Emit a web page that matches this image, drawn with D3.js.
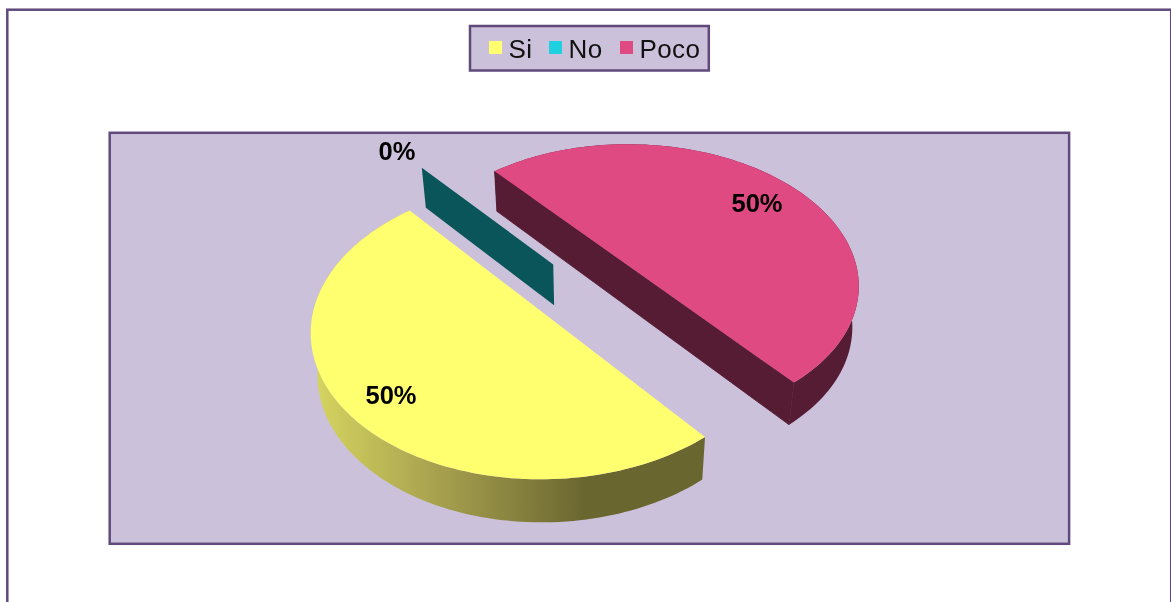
<!DOCTYPE html>
<html><head><meta charset="utf-8">
<script src="https://cdn.jsdelivr.net/npm/d3@7/dist/d3.min.js"></script>
<style>html,body{margin:0;padding:0;background:#fff;overflow:hidden}svg{display:block;filter:blur(0.35px)}</style>
</head><body><svg id="c" width="1171" height="602"></svg>
<script>
const categories = ["Si", "No", "Poco"];
const values = [50, 0, 50];
const labels = ["50%", "0%", "50%"];
const topColors = ["#ffff70", "#1fd0e0", "#e04a82"];
const sideColors = ["url(#rim)", "#0a5559", "#561c33"];

const W = 1171, H = 602;
const svg = d3.select("#c");
const frameColor = "#604a7b", plotFill = "#ccc1da";

// frame + plot area
svg.append("rect").attr("x",7.3).attr("y",9.7).attr("width",W-7.3+0.2).attr("height",H+20)
  .attr("fill","#fff").attr("stroke",frameColor).attr("stroke-width",2.5);
svg.append("rect").attr("x",109.7).attr("y",132.8).attr("width",959.4).attr("height",411)
  .attr("fill",plotFill).attr("stroke",frameColor).attr("stroke-width",2.5);

// rim gradient
const g = svg.append("defs").append("linearGradient").attr("id","rim")
  .attr("gradientUnits","userSpaceOnUse").attr("x1",312).attr("x2",585).attr("y1",0).attr("y2",0);
[[0,"#d6d660"],[0.45,"#a8a24f"],[1,"#6a6630"]].forEach(s=>g.append("stop").attr("offset",s[0]).attr("stop-color",s[1]));

// 3-D camera projection of the pie plane
const k=0.1093, sx=233.6, sy=148.2, ox=543.5, oy=313.6, cX=0.2, cY=-0.155;
const ux=0.637, uy=0.77, along=0.985, across=1.004;
const project=(X,Y)=>{
  const a=(X*ux+Y*uy), b=(-X*uy+Y*ux);
  const Xs=along*a*ux-across*b*uy, Ys=along*a*uy+across*b*ux;
  const x0=Xs+cX,y0=Ys+cY,w=1-k*y0;
  return [ox+sx*x0/w, oy+sy*y0/w];
};
const lower=p=>[590+(p[0]-590)*0.976, p[1]+40+(p[1]-170)*0.01];
const explode=0.25;

const rot=140.4*Math.PI/180;
const arcs=d3.pie().sort(null).value(d=>d).startAngle(rot).endAngle(rot+2*Math.PI)(values);
const line=d3.line();

function slicePoints(a){
  const mid=(a.startAngle+a.endAngle)/2;
  const dx=explode*Math.sin(mid), dy=-explode*Math.cos(mid);
  const pt=(t,r)=>project(dx+r*Math.sin(t), dy-r*Math.cos(t));
  const n=a.endAngle>a.startAngle?120:1;
  const arcPts=d3.range(n+1).map(i=>pt(a.startAngle+(a.endAngle-a.startAngle)*i/n,1));
  return {arcPts, apex:pt(0,0)};
}
const pie=svg.append("g");
arcs.forEach((a,i)=>{
  const s=slicePoints(a);
  if(a.endAngle===a.startAngle){
    const q=[s.apex,s.arcPts[0],lower(s.arcPts[0]),lower(s.apex)];
    pie.append("path").attr("d",line(q)+"Z").attr("fill",sideColors[i]);
    return;
  }
  const rim=s.arcPts.concat(s.arcPts.map(lower).reverse());
  pie.append("path").attr("d",line(rim)+"Z").attr("fill",sideColors[i]);
  if(i===2){
    const first=s.arcPts[0], last=s.arcPts[s.arcPts.length-1];
    pie.append("path").attr("d",line([first,last,lower(last),lower(first)])+"Z").attr("fill",sideColors[i]).attr("stroke",sideColors[i]).attr("stroke-width",0.8);
  }
  pie.append("path").attr("d",line(s.arcPts)+"Z").attr("fill",topColors[i]);
});

// data labels
const labelPos=[[391,395],[397,151],[757,203]];
svg.append("g").selectAll("text").data(labels).join("text")
  .attr("x",(d,i)=>labelPos[i][0]).attr("y",(d,i)=>labelPos[i][1]).attr("dy","0.35em")
  .attr("text-anchor","middle").attr("font-family","Liberation Sans, Arial, sans-serif")
  .attr("font-weight","bold").attr("font-size",25.5).attr("fill","#000").text(d=>d);

// legend
svg.append("rect").attr("x",470).attr("y",26).attr("width",238.8).attr("height",44.5)
  .attr("fill",plotFill).attr("stroke",frameColor).attr("stroke-width",2.5);
const swatchX=[489,549,620];
const lg=svg.append("g").selectAll("g").data(categories).join("g")
  .attr("transform",(d,i)=>`translate(${swatchX[i]},41)`);
lg.append("rect").attr("width",13).attr("height",13).attr("fill",(d,i)=>topColors[i]);
lg.append("text").attr("x",19.5).attr("y",17).attr("font-family","Liberation Sans, Arial, sans-serif")
  .attr("font-size",26).attr("letter-spacing",0.4).attr("fill","#111").text(d=>d);
</script></body></html>
